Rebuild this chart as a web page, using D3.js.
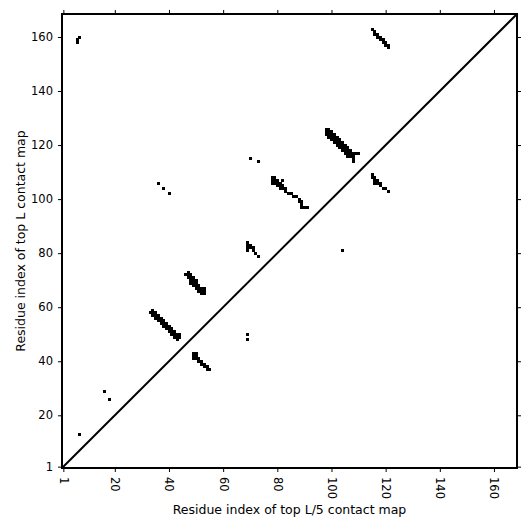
<!DOCTYPE html>
<html>
<head>
<meta charset="utf-8">
<script src="https://cdn.jsdelivr.net/npm/d3@7"></script>
<style>
  body { margin: 0; background: #fff; }
  svg text { font-family: "DejaVu Sans", sans-serif; fill: #000; }
</style>
</head>
<body>
<svg id="map" width="531" height="531"></svg>
<script>
// residue count and tick labels
const residueCount = 168;
const xTicks = [1, 20, 40, 60, 80, 100, 120, 140, 160];
const yTicks = [1, 20, 40, 60, 80, 100, 120, 140, 160];

// contact cells [x residue, y residue], grouped by region
const nTermContacts = [[6, 158], [6, 159], [7, 160], [7, 13], [16, 29], [18, 26]];
const strandA = [
    [33, 58], [34, 59], [34, 58], [34, 57], [35, 58], [35, 57], [35, 56], [36, 57], [36, 56], [36, 55],
    [37, 56], [37, 55], [37, 54], [38, 55], [38, 54], [38, 53], [39, 54], [39, 53], [39, 52],
    [40, 53], [40, 52], [40, 51], [41, 52], [41, 51], [41, 50], [42, 51], [42, 50], [42, 49],
    [43, 50], [43, 49], [43, 48], [44, 50], [44, 49]
];
const strandB = [
    [46, 72], [47, 73], [47, 72], [47, 71], [48, 72], [48, 71], [48, 70], [48, 69],
    [49, 71], [49, 70], [49, 69], [49, 68], [50, 70], [50, 69], [50, 68], [50, 67],
    [51, 68], [51, 67], [51, 66], [52, 67], [52, 66], [52, 65], [53, 67], [53, 66], [53, 65]
];
const strandC = [
    [49, 43], [50, 43], [49, 42], [50, 42], [49, 41], [50, 41], [51, 41], [51, 40],
    [52, 40], [52, 39], [53, 39], [53, 38], [54, 38], [54, 37], [55, 37], [69, 50], [69, 48]
];
const midContacts = [
    [36, 106], [38, 104], [40, 102], [70, 115], [73, 114], [104, 81],
    [69, 84], [69, 83], [69, 82], [69, 81], [70, 83], [70, 82], [71, 82], [71, 81], [72, 80], [73, 79]
];
const strandD = [
    [78, 108], [78, 107], [78, 106], [79, 108], [79, 107], [79, 106], [80, 107], [80, 106], [80, 105],
    [81, 106], [81, 105], [81, 104], [82, 107], [82, 105], [82, 104], [83, 104], [83, 103],
    [84, 102], [85, 102], [86, 101], [87, 101], [88, 100], [88, 99], [89, 99], [89, 98],
    [89, 97], [90, 97], [91, 97]
];
const strandE = [
    [98, 126], [98, 125], [98, 124], [99, 126], [99, 125], [99, 124], [99, 123],
    [100, 125], [100, 124], [100, 123], [100, 122], [101, 124], [101, 123], [101, 122], [101, 121],
    [102, 123], [102, 122], [102, 121], [102, 120], [103, 122], [103, 121], [103, 120], [103, 119],
    [104, 121], [104, 120], [104, 119], [104, 118], [105, 120], [105, 119], [105, 118], [105, 117],
    [106, 119], [106, 118], [106, 117], [106, 116], [107, 118], [107, 117], [107, 116],
    [108, 117], [108, 116], [108, 115], [108, 114], [109, 117], [110, 117]
];
const strandF = [
    [115, 109], [115, 108], [116, 108], [116, 107], [116, 106], [117, 107], [117, 106],
    [118, 106], [118, 105], [119, 104], [120, 104], [121, 103]
];
const cTermContacts = [
    [115, 163], [116, 162], [116, 161], [117, 161], [117, 160], [118, 160], [118, 159],
    [119, 159], [119, 158], [120, 158], [120, 157], [121, 157], [121, 156]
];

const contacts = [].concat(nTermContacts, strandA, strandB, strandC, midContacts,
    strandD, strandE, strandF, cTermContacts);

const svg = d3.select("svg#map");
const margin = {top: 14, right: 14, bottom: 63, left: 62};
const width = 531 - margin.left - margin.right;
const height = 531 - margin.top - margin.bottom;

const g = svg.append("g").attr("transform", `translate(${margin.left}, ${margin.top})`);

const x = d3.scaleLinear().domain([0.5, residueCount + 0.5]).range([0, width]);
const y = d3.scaleLinear().domain([0.5, residueCount + 0.5]).range([height, 0]);

// contact cells
g.selectAll("rect.cell")
    .data(contacts)
    .enter()
    .append("rect")
    .attr("class", "cell")
    .attr("x", d => x(d[0] - 0.5))
    .attr("y", d => y(d[1] + 0.5))
    .attr("width", d => x(d[0] + 0.5) - x(d[0] - 0.5) + 0.3)
    .attr("height", d => y(d[1] - 0.5) - y(d[1] + 0.5) + 0.3)
    .attr("fill", "#000")
    .attr("shape-rendering", "crispEdges");

// diagonal
g.append("line")
    .attr("x1", x(0.5)).attr("y1", y(0.5))
    .attr("x2", x(residueCount + 0.5)).attr("y2", y(residueCount + 0.5))
    .attr("stroke", "#000")
    .attr("stroke-width", 2);

// axes
const bottomAxis = g.append("g")
    .attr("transform", `translate(0, ${height})`)
    .call(d3.axisBottom(x).tickValues(xTicks).tickSize(4).tickSizeOuter(0));
bottomAxis.selectAll("text")
    .attr("transform", "rotate(90)")
    .attr("x", 9)
    .attr("y", 0)
    .attr("dy", "0.35em")
    .style("text-anchor", "start");

g.append("g")
    .call(d3.axisTop(x).tickValues(xTicks).tickSize(4).tickSizeOuter(0).tickFormat(""));

g.append("g")
    .call(d3.axisLeft(y).tickValues(yTicks).tickSize(4).tickPadding(5).tickSizeOuter(0));

g.append("g")
    .attr("transform", `translate(${width}, 0)`)
    .call(d3.axisRight(y).tickValues(yTicks).tickSize(4).tickSizeOuter(0).tickFormat(""));

g.selectAll(".domain").remove();
g.selectAll(".tick text").style("font-size", "11.5px").style("font-family", "DejaVu Sans");
g.selectAll(".tick line").attr("stroke", "#000").attr("stroke-width", 1);

// frame
g.append("rect")
    .attr("width", width)
    .attr("height", height)
    .attr("fill", "none")
    .attr("stroke", "#000")
    .attr("stroke-width", 2);

// titles
svg.append("text")
    .attr("x", margin.left + width / 2)
    .attr("y", 514)
    .attr("text-anchor", "middle")
    .style("font-size", "12.5px")
    .text("Residue index of top L/5 contact map");

svg.append("text")
    .attr("transform", `translate(25, ${margin.top + height / 2}) rotate(-90)`)
    .attr("text-anchor", "middle")
    .style("font-size", "12.5px")
    .text("Residue index of top L contact map");
</script>
</body>
</html>
